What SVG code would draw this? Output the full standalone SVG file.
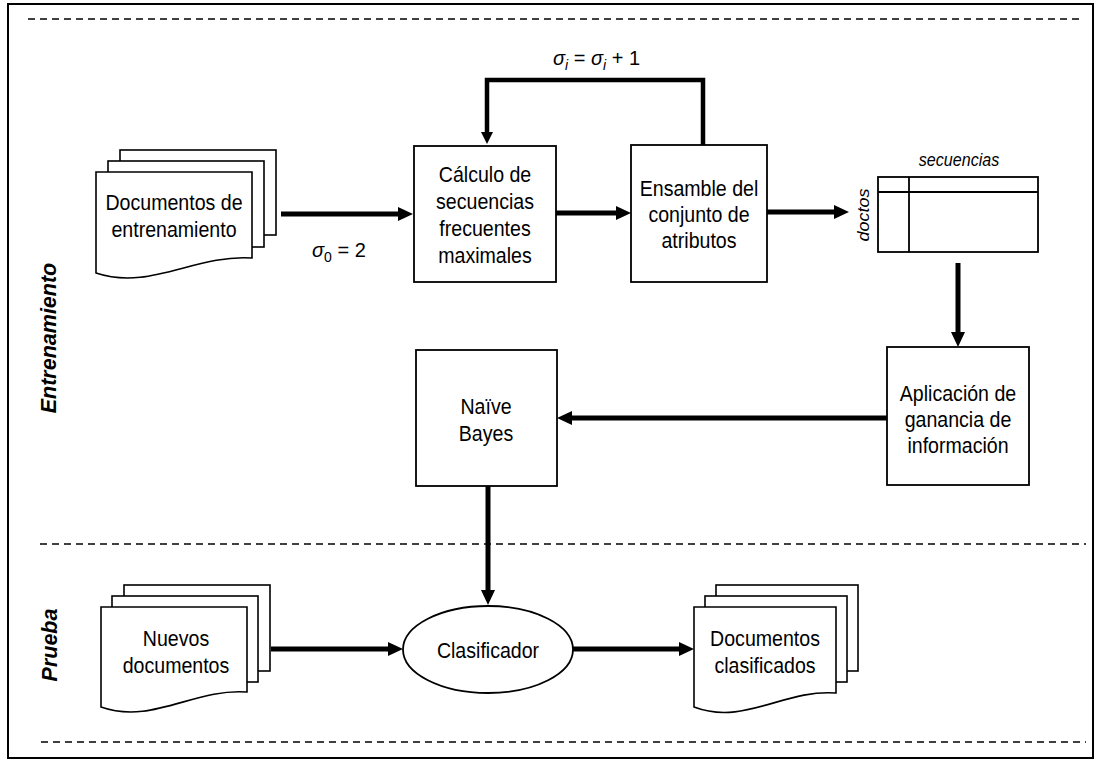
<svg xmlns="http://www.w3.org/2000/svg" width="1098" height="761" viewBox="0 0 1098 761">
<style>
.box{fill:#fff;stroke:#000;stroke-width:1.8}
.page{fill:#fff;stroke:#000;stroke-width:1.6}
.t{font-family:"Liberation Sans",Arial,Helvetica,sans-serif;font-size:22.5px;fill:#000;text-anchor:middle}
.sm{font-family:"Liberation Sans",Arial,Helvetica,sans-serif;font-size:18.5px;font-style:italic;fill:#000;text-anchor:middle}
.lbl{font-family:"Liberation Sans",Arial,Helvetica,sans-serif;font-size:20px;fill:#000}
.side{font-family:"Liberation Sans",Arial,Helvetica,sans-serif;font-size:21.5px;font-weight:bold;font-style:italic;fill:#000;text-anchor:middle}
.dash{stroke:#000;stroke-width:1.4;stroke-dasharray:7 5;fill:none}
.conn{stroke:#000;stroke-width:5;fill:none;marker-end:url(#ah)}
</style>
<defs>
<marker id="ah" viewBox="0 0 15 14" markerWidth="15" markerHeight="14" markerUnits="userSpaceOnUse" refX="4" refY="7" orient="auto">
<path d="M0,0 L15,7 L0,14 z" fill="#000"/>
</marker>
<marker id="ahs" viewBox="0 0 12 12" markerWidth="12" markerHeight="12" markerUnits="userSpaceOnUse" refX="3" refY="6" orient="auto">
<path d="M0,0 L12,6 L0,12 z" fill="#000"/>
</marker>
</defs>
<rect x="0" y="0" width="1098" height="761" fill="#fff"/>
<rect x="8" y="4" width="1085" height="754" fill="none" stroke="#000" stroke-width="2"/>
<g id="separators">
<line class="dash" x1="28" y1="19" x2="1082" y2="19"/>
<line class="dash" x1="40" y1="544" x2="1086" y2="544"/>
<line class="dash" x1="41" y1="742" x2="1086" y2="742"/>
</g>
<g id="phase-labels">
<text class="side" transform="translate(56,338) rotate(-90)">Entrenamiento</text>
<text class="side" transform="translate(57,645) rotate(-90)">Prueba</text>
</g>
<g id="connectors">
<line class="conn" x1="281" y1="214" x2="402" y2="214"/>
<line class="conn" x1="556" y1="213" x2="620" y2="213"/>
<line class="conn" x1="767" y1="212" x2="838" y2="212"/>
<path d="M703,145 V80 H487 V135" fill="none" stroke="#000" stroke-width="4.5" marker-end="url(#ahs)"/>
<line class="conn" x1="958" y1="263" x2="958" y2="336"/>
<line class="conn" x1="887" y1="418" x2="568" y2="418"/>
<line class="conn" x1="488" y1="486" x2="488" y2="594"/>
<line class="conn" x1="271" y1="649" x2="392" y2="649"/>
<line class="conn" x1="573" y1="649" x2="683" y2="649"/>
</g>
<g id="conn-labels">
<text class="lbl" x="312" y="257"><tspan font-style="italic">σ</tspan><tspan font-size="14" dy="5">0</tspan><tspan dy="-5"> = 2</tspan></text>
<text class="lbl" x="553" y="65"><tspan font-style="italic">σ</tspan><tspan font-size="14" font-style="italic" dy="5">i</tspan><tspan dy="-5"> = </tspan><tspan font-style="italic">σ</tspan><tspan font-size="14" font-style="italic" dy="5">i</tspan><tspan dy="-5"> + 1</tspan></text>
</g>
<g id="docs-entrenamiento">
<rect class="page" x="120" y="150" width="156" height="85"/>
<rect class="page" x="108" y="161" width="156" height="86"/>
<path class="page" d="M96,172 H252 V258 C195,254 150,291 96,273 Z"/>
<g transform="translate(174,0) scale(0.87,1)">
<text class="t" x="0" y="210">Documentos de</text>
<text class="t" x="0" y="237">entrenamiento</text>
</g>
</g>
<g id="calculo">
<rect class="box" x="414" y="146" width="142" height="136"/>
<g transform="translate(485,0) scale(0.87,1)">
<text class="t" x="0" y="182">Cálculo de</text>
<text class="t" x="0" y="209">secuencias</text>
<text class="t" x="0" y="236">frecuentes</text>
<text class="t" x="0" y="263">maximales</text>
</g>
</g>
<g id="ensamble">
<rect class="box" x="631" y="145" width="136" height="137"/>
<g transform="translate(699,0) scale(0.87,1)">
<text class="t" x="0" y="196">Ensamble del</text>
<text class="t" x="0" y="222">conjunto de</text>
<text class="t" x="0" y="248">atributos</text>
</g>
</g>
<g id="tabla">
<rect class="box" x="878" y="177" width="160" height="75"/>
<line x1="909" y1="177" x2="909" y2="252" stroke="#000" stroke-width="1.8"/>
<line x1="878" y1="192" x2="1038" y2="192" stroke="#000" stroke-width="1.8"/>
<g transform="translate(959,0) scale(0.87,1)">
<text class="sm" x="0" y="166">secuencias</text>
</g>
<text class="sm" transform="translate(869,215) scale(0.87,1) rotate(-90)" style="font-size:18px">doctos</text>
</g>
<g id="aplicacion">
<rect class="box" x="887" y="347" width="142" height="138"/>
<g transform="translate(958,0) scale(0.87,1)">
<text class="t" x="0" y="401">Aplicación de</text>
<text class="t" x="0" y="427">ganancia de</text>
<text class="t" x="0" y="453">información</text>
</g>
</g>
<g id="naive-bayes">
<rect class="box" x="416" y="350" width="141" height="136"/>
<g transform="translate(486,0) scale(0.87,1)">
<text class="t" x="0" y="414">Naïve</text>
<text class="t" x="0" y="441">Bayes</text>
</g>
</g>
<g id="clasificador">
<ellipse class="box" cx="488" cy="649.5" rx="85" ry="43.5"/>
<g transform="translate(488,0) scale(0.87,1)">
<text class="t" x="0" y="658">Clasificador</text>
</g>
</g>
<g id="nuevos-documentos">
<rect class="page" x="124" y="585" width="146" height="86"/>
<rect class="page" x="112" y="596" width="146" height="86"/>
<path class="page" d="M101,607 H247 V692 C194,688 152,725 101,707 Z"/>
<g transform="translate(176,0) scale(0.87,1)">
<text class="t" x="0" y="646">Nuevos</text>
<text class="t" x="0" y="673">documentos</text>
</g>
</g>
<g id="docs-clasificados">
<rect class="page" x="716" y="585" width="142" height="86"/>
<rect class="page" x="705" y="596" width="142" height="86"/>
<path class="page" d="M694,607 H836 V693 C784,689 744,726 694,707 Z"/>
<g transform="translate(765,0) scale(0.87,1)">
<text class="t" x="0" y="646">Documentos</text>
<text class="t" x="0" y="673">clasificados</text>
</g>
</g>
</svg>
